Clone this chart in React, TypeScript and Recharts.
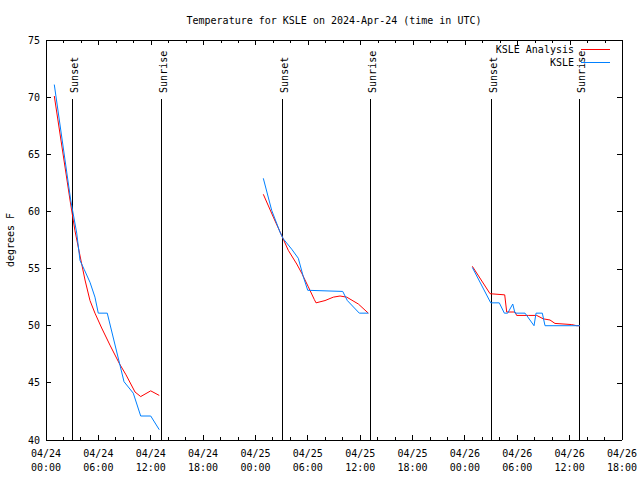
import React from 'react';
import { LineChart, Line, XAxis, YAxis, ReferenceLine } from 'recharts';

// hours since 04/24 00:00 UTC
const xTicks = [0, 2, 4, 6, 8, 10, 12, 14, 16, 18, 20, 22, 24, 26, 28, 30, 32, 34, 36, 38, 40, 42, 44, 46, 48, 50, 52, 54, 56, 58, 60, 62, 64, 66];
const dayLabels = ['04/24', '04/24', '04/24', '04/24', '04/25', '04/25', '04/25', '04/25', '04/26', '04/26', '04/26', '04/26'];
const timeLabels = ['00:00', '06:00', '12:00', '18:00', '00:00', '06:00', '12:00', '18:00', '00:00', '06:00', '12:00', '18:00'];
const yTicks = [40, 45, 50, 55, 60, 65, 70, 75];

// KSLE Analysis (red); null breaks the line between nights
const analysisHours = [0.95, 2.75, 3.32, 4.09, 4.47, 5.04, 5.61, 6.38, 7.33, 8.4, 9.17, 10.2, 10.85, 12.0, 12.98, 18,
  24.9, 26.05, 27.0, 27.76, 28.73, 29.3, 30.06, 30.74, 30.94, 31.97, 32.92, 33.69, 34.46, 35.79, 36.93, 42,
  48.85, 50.88, 52.56, 52.79, 53.74, 53.93, 55.27, 56.23, 56.98, 57.75, 58.32, 60.24, 60.81, 61.19];
const analysisTemps = [70.1, 61.0, 58.3, 55.4, 54.0, 52.2, 51.1, 49.8, 48.3, 46.7, 45.7, 44.2, 43.8, 44.3, 43.9, null,
  61.5, 59.5, 57.9, 56.6, 55.4, 54.6, 53.4, 52.3, 52.0, 52.2, 52.5, 52.6, 52.5, 51.9, 51.1, null,
  55.2, 52.8, 52.7, 51.2, 51.2, 50.9, 50.9, 50.9, 50.6, 50.5, 50.2, 50.1, 50.0, 50.0];

// KSLE observations (blue)
const obsHours = [0.95, 2.83, 3.52, 3.9, 4.39, 5.04, 5.61, 5.99, 7.02, 8.94, 10.0, 10.85, 12.0, 12.98, 18,
  24.9, 25.86, 26.81, 27.19, 28.15, 28.91, 29.48, 29.99, 34.0, 34.53, 35.9, 36.93, 42,
  48.85, 50.96, 51.94, 52.52, 52.9, 53.48, 53.74, 54.89, 55.92, 56.15, 56.87, 57.18, 61.19];
const obsTemps = [71.1, 61.0, 58.1, 55.7, 54.9, 53.8, 52.5, 51.1, 51.1, 45.1, 44.1, 42.1, 42.1, 40.9, null,
  62.9, 60.1, 58.2, 57.6, 56.7, 55.9, 54.3, 53.1, 53.0, 52.2, 51.1, 51.1, null,
  55.1, 52.0, 52.0, 51.1, 51.1, 51.9, 51.1, 51.1, 50.0, 51.1, 51.1, 50.0, 50.0];

const sunsetHours = [2.98, 27.08, 51.03];
const sunriseHours = [13.26, 37.15, 61.11];

const seriesNames = ['KSLE Analysis', 'KSLE'];
const seriesColors = ['#ff0000', '#0080ff'];

const analysisData = analysisHours.map((h, i) => ({ h, t: analysisTemps[i] }));
const obsData = obsHours.map((h, i) => ({ h, t: obsTemps[i] }));

const X_MIN = 0;
const X_MAX = 66;
const Y_MIN = 40;
const Y_MAX = 75;

const W = 640;
const H = 480;
const MARGIN = { top: 40, right: 18, bottom: 0, left: 0 };
const Y_AXIS_W = 46;
const X_AXIS_H = 40;
// plot frame in pixels, from the margins and axis sizes above
const PLOT_LEFT = MARGIN.left + Y_AXIS_W;
const PLOT_RIGHT = W - MARGIN.right;
const PLOT_TOP = MARGIN.top;
const PLOT_BOTTOM = H - MARGIN.bottom - X_AXIS_H;

const FONT = '"DejaVu Sans Mono", "Liberation Mono", monospace';
const textStyle = { fontFamily: FONT, fontSize: 10, fill: '#000' };

const BottomTick = (props: any) => {
  const { x, y, payload } = props;
  const v = payload.value;
  const major = v % 6 === 0;
  return (
    <g>
      <line x1={x} y1={y} x2={x} y2={y - (major ? 5 : 3)} stroke="#000" shapeRendering="crispEdges" />
      {major && (
        <text x={x} y={y + 17} textAnchor="middle" style={textStyle}>{dayLabels[v / 6]}</text>
      )}
      {major && (
        <text x={x} y={y + 31} textAnchor="middle" style={textStyle}>{timeLabels[v / 6]}</text>
      )}
    </g>
  );
};

const LeftTick = (props: any) => {
  const { x, y, payload } = props;
  return (
    <g>
      <line x1={x} y1={y} x2={x + 5} y2={y} stroke="#000" shapeRendering="crispEdges" />
      <text x={x - 6} y={y + 3.6} textAnchor="end" style={textStyle}>{payload.value}</text>
    </g>
  );
};

const sunLabel = (name: string) => (props: any) => {
  const vb = props.viewBox || {};
  const lx = vb.x + 5.5;
  const ly = vb.y - 6.5;
  return (
    <text x={lx} y={ly} transform={`rotate(-90 ${lx} ${ly})`} textAnchor="start" style={textStyle}>{name}</text>
  );
};

// y-axis title, chart title and legend, drawn in the chart svg through the left axis label
const decor = () => (
  <g>
    <text x={13.5} y={240} transform="rotate(-90 13.5 240)" textAnchor="middle" style={textStyle}>degrees F</text>
    <text x={(PLOT_LEFT + PLOT_RIGHT) / 2} y={23.6} textAnchor="middle" style={textStyle}>
      Temperature for KSLE on 2024-Apr-24 (time in UTC)
    </text>
    {seriesNames.map((n, i) => (
      <g key={n}>
        <text x={574} y={53.3 + i * 12.5} textAnchor="end" style={textStyle}>{n}</text>
        <line x1={581} x2={610} y1={49.5 + i * 12.5} y2={49.5 + i * 12.5} stroke={seriesColors[i]} shapeRendering="crispEdges" />
      </g>
    ))}
  </g>
);

// top and right sides of the frame with mirrored inward ticks, laid over the chart
const FrameOverlay = () => {
  const px = (t: number) => PLOT_LEFT + ((PLOT_RIGHT - PLOT_LEFT) * (t - X_MIN)) / (X_MAX - X_MIN);
  const py = (t: number) => PLOT_BOTTOM - ((PLOT_BOTTOM - PLOT_TOP) * (t - Y_MIN)) / (Y_MAX - Y_MIN);
  return (
    <svg
      width={W}
      height={H}
      style={{ position: 'absolute', left: 0, top: 0, pointerEvents: 'none' }}
    >
      <path
        d={`M${PLOT_LEFT},${PLOT_TOP + 0.5}H${PLOT_RIGHT + 0.5}V${PLOT_BOTTOM}`}
        fill="none"
        stroke="#000"
        strokeWidth={1}
      />
      {xTicks.map((t) => (
        <line
          key={`t${t}`}
          x1={Math.round(px(t)) + 0.5}
          x2={Math.round(px(t)) + 0.5}
          y1={PLOT_TOP}
          y2={PLOT_TOP + (t % 6 === 0 ? 5 : 3)}
          stroke="#000"
          strokeWidth={1}
        />
      ))}
      {yTicks.map((t) => (
        <line
          key={`r${t}`}
          x1={PLOT_RIGHT}
          x2={PLOT_RIGHT - 5}
          y1={Math.round(py(t)) + 0.5}
          y2={Math.round(py(t)) + 0.5}
          stroke="#000"
          strokeWidth={1}
        />
      ))}
    </svg>
  );
};

export default function App() {
  return (
    <div style={{ position: 'absolute', left: 0, top: 0, width: W, height: H, background: '#fff' }}>
      <LineChart width={W} height={H} margin={MARGIN}>
        <XAxis
          xAxisId="b"
          type="number"
          dataKey="h"
          domain={[X_MIN, X_MAX]}
          ticks={xTicks}
          interval={0}
          height={X_AXIS_H}
          tickSize={0}
          tickMargin={0}
          tickLine={false}
          tick={<BottomTick />}
          axisLine={{ stroke: '#000', shapeRendering: 'crispEdges' }}
          allowDataOverflow
        />
        <YAxis
          yAxisId="l"
          type="number"
          domain={[Y_MIN, Y_MAX]}
          ticks={yTicks}
          interval={0}
          width={Y_AXIS_W}
          tickSize={0}
          tickMargin={0}
          tickLine={false}
          tick={<LeftTick />}
          axisLine={{ stroke: '#000', shapeRendering: 'crispEdges' }}
          label={decor}
          allowDataOverflow
        />
        {sunsetHours.map((h) => (
          <ReferenceLine
            key={`ss${h}`}
            xAxisId="b"
            yAxisId="l"
            segment={[{ x: h, y: Y_MIN }, { x: h, y: 69.8 }]}
            stroke="#000"
            shapeRendering="crispEdges"
            label={sunLabel('Sunset')}
          />
        ))}
        {sunriseHours.map((h) => (
          <ReferenceLine
            key={`sr${h}`}
            xAxisId="b"
            yAxisId="l"
            segment={[{ x: h, y: Y_MIN }, { x: h, y: 69.8 }]}
            stroke="#000"
            shapeRendering="crispEdges"
            label={sunLabel('Sunrise')}
          />
        ))}
        <Line
          xAxisId="b"
          yAxisId="l"
          data={analysisData}
          dataKey="t"
          name={seriesNames[0]}
          type="linear"
          stroke={seriesColors[0]}
          strokeWidth={1}
          dot={false}
          activeDot={false}
          isAnimationActive={false}
        />
        <Line
          xAxisId="b"
          yAxisId="l"
          data={obsData}
          dataKey="t"
          name={seriesNames[1]}
          type="linear"
          stroke={seriesColors[1]}
          strokeWidth={1}
          dot={false}
          activeDot={false}
          isAnimationActive={false}
        />
      </LineChart>
      <FrameOverlay />
    </div>
  );
}
